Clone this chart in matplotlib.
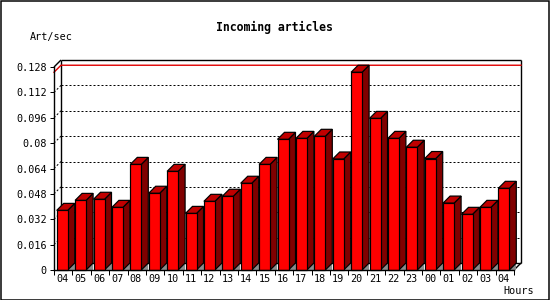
import matplotlib
matplotlib.use("Agg")
import matplotlib.pyplot as plt
from matplotlib.patches import Polygon, Rectangle

# ---- data ----
hours = ["04", "05", "06", "07", "08", "09", "10", "11", "12", "13", "14", "15",
         "16", "17", "18", "19", "20", "21", "22", "23", "00", "01", "02", "03", "04"]
rates = [0.0376, 0.0439, 0.0446, 0.0395, 0.0666, 0.0484, 0.0622, 0.0357, 0.0433,
         0.0465, 0.0547, 0.0666, 0.0824, 0.0830, 0.0843, 0.0700, 0.1247, 0.0956,
         0.0830, 0.0774, 0.0703, 0.0422, 0.0351, 0.0395, 0.0515]
ytick_vals = [0, 0.016, 0.032, 0.048, 0.064, 0.08, 0.096, 0.112, 0.128]
ytick_labels = ["0", "0.016", "0.032", "0.048", "0.064", "0.08", "0.096", "0.112", "0.128"]
title = "Incoming articles"
ylabel = "Art/sec"
xlabel = "Hours"

# ---- layout (pixels) ----
W, H = 550, 300
ax_left, ax_right, ax_bottom, ax_top = 54, 514, 270, 67
depth_px = 7
ymax = 0.128
n = len(rates)

fig = plt.figure(figsize=(W / 100, H / 100), dpi=100)
fig.patch.set_facecolor("white")
ax = fig.add_axes([ax_left / W, 1 - ax_bottom / H,
                   (ax_right - ax_left) / W, (ax_bottom - ax_top) / H])
ax.set_xlim(0, n)
ax.set_ylim(0, ymax)
ax.set_facecolor("none")

px_x = (ax_right - ax_left) / n          # pixels per slot
px_y = (ax_bottom - ax_top) / ymax       # pixels per unit
dx = depth_px / px_x
dy = depth_px / px_y

PX = 0.72  # one pixel in points
mono = "DejaVu Sans Mono"

# ---- back plane ----
grid_kw = dict(color="black", lw=PX, linestyle=(0, (2, 2)), zorder=1, clip_on=False)
for g in ytick_vals[1:-1]:
    ax.plot([dx, n + dx], [g + dy, g + dy], **grid_kw)
    ax.plot([0, dx], [g, g + dy], **grid_kw)
edge_kw = dict(color="black", lw=PX * 1.4, zorder=1.2, clip_on=False, solid_capstyle="butt")
ax.plot([dx, n + dx], [ymax + dy, ymax + dy], **edge_kw)
ax.plot([n + dx, n + dx], [dy, ymax + dy], **edge_kw)
ax.plot([dx, dx], [dy, ymax + dy], **edge_kw)
ax.plot([dx, n + dx], [dy, dy], **edge_kw)
ax.plot([0, dx], [ymax, ymax + dy], **edge_kw)
ax.plot([n, n + dx], [0, dy], **edge_kw)

# max line
vmax = max(rates)
ax.plot([0, dx, n + dx], [vmax, vmax + dy, vmax + dy], color="#e00000",
        lw=PX * 1.4, zorder=1.5, clip_on=False)

# ---- bars ----
off = 2.7 / px_x
bw = 11 / px_x
for i, v in enumerate(rates):
    x0 = i + off
    x1 = x0 + bw
    ax.add_patch(Polygon([(x1, 0), (x1 + dx, 0), (x1 + dx, dy)], closed=True,
                         facecolor="#8c8c8c", edgecolor="none", zorder=3, clip_on=False))
    ax.add_patch(Polygon([(x1, 0), (x1 + dx, dy), (x1 + dx, v + dy), (x1, v)], closed=True,
                         facecolor="#800000", edgecolor="black", lw=PX * 1.2, zorder=3,
                         clip_on=False))
    ax.add_patch(Polygon([(x0, v), (x1, v), (x1 + dx, v + dy), (x0 + dx, v + dy)], closed=True,
                         facecolor="#c00000", edgecolor="black", lw=PX * 1.2, zorder=3,
                         clip_on=False))
    ax.add_patch(Rectangle((x0, 0), bw, v, facecolor="#ff0000", edgecolor="black",
                           lw=PX * 1.2, zorder=3.1, clip_on=False))

# ---- axes ----
for s in ["top", "right"]:
    ax.spines[s].set_visible(False)
for s in ["left", "bottom"]:
    ax.spines[s].set_linewidth(PX * 1.4)
    ax.spines[s].set_zorder(4)

ax.set_yticks(ytick_vals)
ax.set_yticklabels(ytick_labels, fontfamily=mono, fontsize=7.3)
ax.set_xticks(range(n + 1))
ax.set_xticklabels([])
ax.set_xticks([i + off + bw / 2 for i in range(n)], minor=True)
ax.set_xticklabels(hours, minor=True, fontfamily=mono, fontsize=7.3)
ax.tick_params(axis="y", length=4 * PX, width=PX, pad=2.2, direction="out")
ax.tick_params(axis="x", which="major", length=5 * PX, width=PX, direction="out")
ax.tick_params(axis="x", which="minor", length=0, pad=3)

# ---- texts ----
fig.text(274 / W, 1 - 27 / H, title, ha="center", va="center",
         fontfamily=mono, fontweight="bold", fontsize=8.3)
fig.text(30 / W, 1 - 37 / H, ylabel, ha="left", va="center", fontfamily=mono, fontsize=7.3)
fig.text(503 / W, 1 - 291 / H, xlabel, ha="left", va="center", fontfamily=mono, fontsize=7.3)

# outer frame
fig.patches.append(Rectangle((0.5 / W, 0.5 / H), 1 - 1.5 / W, 1 - 1.5 / H,
                             transform=fig.transFigure, fill=False,
                             edgecolor="black", lw=PX * 1.5))

fig.savefig("out.png", dpi=100)
